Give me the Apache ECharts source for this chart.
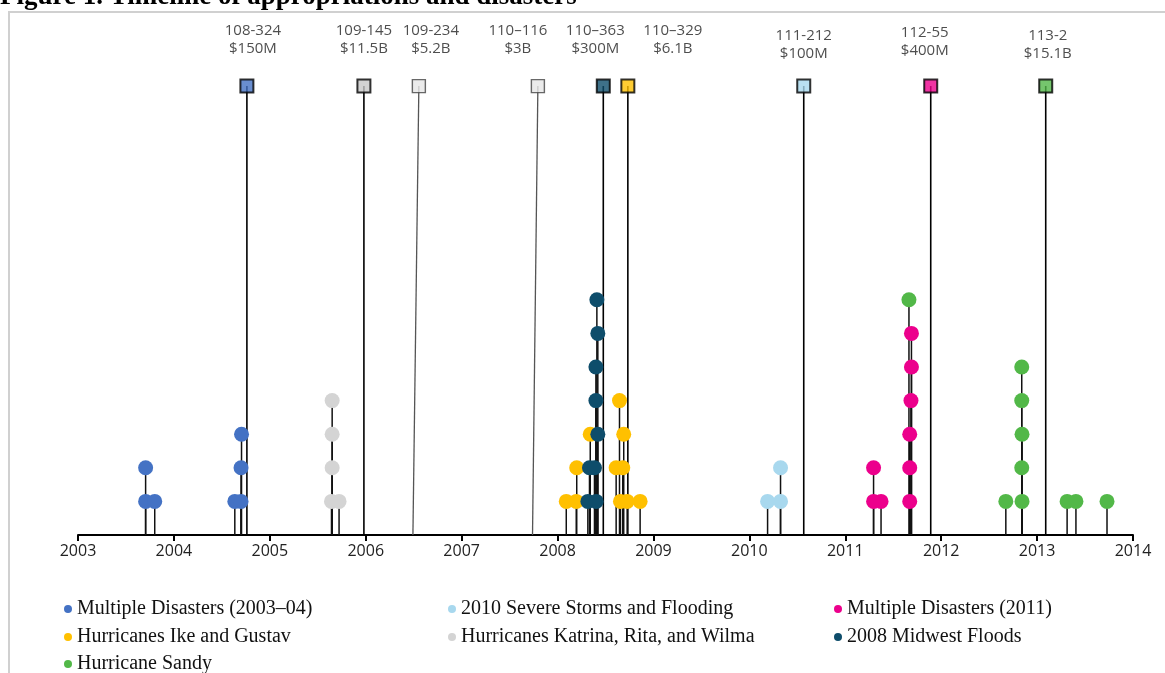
<!DOCTYPE html>
<html><head><meta charset="utf-8">
<script src="https://cdn.jsdelivr.net/npm/echarts/dist/echarts.min.js"></script>
<style>html,body{margin:0;padding:0;background:#fff}#c{width:1165px;height:673px}</style>
</head><body><div id="c"></div>
<script>
// ---- Data ----
const axisYears = [2003, 2004, 2005, 2006, 2007, 2008, 2009, 2010, 2011, 2012, 2013, 2014];

// Disaster declarations: [date (decimal year), stack level]
const multiple0304 = [[2003.705,1],[2003.705,2],[2003.80,1],[2004.635,1],[2004.70,1],[2004.70,2],[2004.705,3]];
const katrinaRitaWilma = [[2005.643,1],[2005.65,2],[2005.65,3],[2005.65,4],[2005.722,1]];
const ikeGustav = [[2008.091,1],[2008.195,1],[2008.20,2],[2008.341,3],[2008.656,1],[2008.726,1],[2008.611,2],[2008.68,2],[2008.69,3],[2008.646,4],[2008.861,1]];
const midwestFloods = [[2008.316,1],[2008.403,1],[2008.333,2],[2008.385,2],[2008.42,3],[2008.40,4],[2008.40,5],[2008.42,6],[2008.41,7]];
const storms2010 = [[2010.19,1],[2010.325,1],[2010.325,2]];
const multiple2011 = [[2011.295,1],[2011.295,2],[2011.373,1],[2011.672,1],[2011.672,2],[2011.672,3],[2011.685,4],[2011.69,5],[2011.69,6]];
const sandy = [[2011.664,7],[2012.674,1],[2012.843,1],[2012.84,2],[2012.843,3],[2012.84,4],[2012.84,5],[2013.313,1],[2013.405,1],[2013.729,1]];

const disasterNames = ['Multiple Disasters (2003–04)', 'Hurricanes Katrina, Rita, and Wilma', 'Hurricanes Ike and Gustav', '2008 Midwest Floods', '2010 Severe Storms and Flooding', 'Multiple Disasters (2011)', 'Hurricane Sandy'];
const disasterData = [multiple0304, katrinaRitaWilma, ikeGustav, midwestFloods, storms2010, multiple2011, sandy];

// Appropriations
const appropLaws = ['108-324', '109-145', '109-234', '110–116', '110–363', '110–329', '111-212', '112-55', '113-2'];
const appropAmounts = ['$150M', '$11.5B', '$5.2B', '$3B', '$300M', '$6.1B', '$100M', '$400M', '$15.1B'];
const appropMarkerDates = [2004.761, 2005.981, 2006.554, 2007.795, 2008.477, 2008.733, 2010.567, 2011.891, 2013.09];
const appropBaseDates = [2004.761, 2005.981, 2006.492, 2007.739, 2008.477, 2008.733, 2010.567, 2011.891, 2013.09];

// ---- Styles ----
const disasterColors = ['#4472C4', '#D4D4D4', '#FFC000', '#0E4D6B', '#A8D8EE', '#EC008C', '#52B848'];
const appropFill = ['#4472C4', '#C8C8C8', '#E6E6E6', '#E6E6E6', '#0E4D6B', '#FFC000', '#A8D8EE', '#EC008C', '#52B848'];
const appropBorder = ['#000', '#000', '#444', '#444', '#000', '#000', '#000', '#000', '#000'];
const appropBorderW = [2, 2, 1.4, 1.4, 2, 2, 2, 2, 2];
const appropLineColor = ['#000', '#000', '#555', '#555', '#000', '#000', '#000', '#000', '#000'];
const appropLabelOffset = [[6,0],[0,0],[12,0],[-20,0],[-8,0],[45,0],[0,5],[-6,2],[2,5]];
const MARKER_LEVEL = 13.36;
// legend placement, in disasterNames order
const legendPos = [[64,599],[448,627],[64,627],[834,627],[448,599],[834,599],[64,654]];

const chart = echarts.init(document.getElementById('c'));

const series = [];
series.push({
  type: 'custom', name: 'appropLines', z: 1, silent: true,
  data: appropMarkerDates.map((d, i) => [d, appropBaseDates[i], MARKER_LEVEL, i]),
  renderItem: function (params, api) {
    const i = api.value(3);
    const p1 = api.coord([api.value(0), api.value(2)]);
    const p2 = api.coord([api.value(1), 0]);
    return { type: 'line', shape: {x1: p1[0], y1: p1[1], x2: p2[0], y2: p2[1]},
      style: {stroke: appropLineColor[i], lineWidth: appropLineColor[i] === '#000' ? 1.6 : 1.3} };
  }
});
disasterData.forEach((d, k) => {
  series.push({
    type: 'custom', name: 'stem' + k, z: 2, silent: true,
    data: d,
    renderItem: function (params, api) {
      const top = api.coord([api.value(0), api.value(1)]);
      const base = api.coord([api.value(0), 0]);
      return { type: 'line', shape: {x1: base[0], y1: base[1], x2: top[0], y2: top[1]},
        style: {stroke: '#111', lineWidth: 1.5} };
    }
  });
});
disasterData.forEach((d, k) => {
  series.push({
    type: 'scatter', name: disasterNames[k], z: 3 + k * 0.01,
    symbol: 'circle', symbolSize: 15, data: d,
    itemStyle: {color: disasterColors[k], opacity: 1},
    emphasis: {disabled: true}
  });
});
series.push({
  type: 'scatter', name: 'approps', z: 5, symbol: 'rect', symbolSize: 13,
  data: appropMarkerDates.map((d, i) => ({
    value: [d, MARKER_LEVEL],
    itemStyle: {color: appropFill[i], borderColor: appropBorder[i], borderWidth: appropBorderW[i]},
    label: {offset: appropLabelOffset[i]}
  })),
  label: {
    show: true, position: 'top', distance: 21,
    formatter: p => appropLaws[p.dataIndex] + '\n' + appropAmounts[p.dataIndex],
    fontFamily: 'Open Sans', fontSize: 15, lineHeight: 18, color: '#222', align: 'center'
  },
  emphasis: {disabled: true}
});

const legends = disasterNames.map((n, k) => ({
  left: legendPos[k][0], top: legendPos[k][1], padding: 0, data: [n],
  icon: 'circle', itemWidth: 8, itemHeight: 8, selectedMode: false,
  textStyle: {fontFamily: 'Liberation Serif', fontSize: 20, color: '#111', lineHeight: 20}
}));

chart.setOption({
  animation: false,
  backgroundColor: '#fff',
  grid: {left: 78, right: 32, top: 31, bottom: 138},
  xAxis: {
    type: 'value', min: axisYears[0], max: axisYears[axisYears.length - 1], interval: 1,
    axisLine: {show: true, onZero: false, lineStyle: {color: '#000', width: 2}},
    axisTick: {show: true, length: 6, lineStyle: {color: '#000', width: 2}},
    axisLabel: {fontFamily: 'Open Sans', fontSize: 16, color: '#222', margin: 8, formatter: v => String(v)},
    splitLine: {show: false}
  },
  yAxis: {type: 'value', min: 0, max: 15, show: false, splitLine: {show: false}},
  legend: legends,
  graphic: [
    {type: 'rect', silent: true, z: -1, shape: {x: 9, y: 12, width: 1300, height: 800},
     style: {fill: 'none', stroke: '#D0D0D0', lineWidth: 2}},
    {type: 'text', silent: true, x: 0, y: -3,
     style: {text: 'Figure 1. Timeline of appropriations and disasters', font: 'bold 27px "Liberation Serif"', fill: '#000', verticalAlign: 'middle'}}
  ],
  series: series
});
</script>
</body></html>
